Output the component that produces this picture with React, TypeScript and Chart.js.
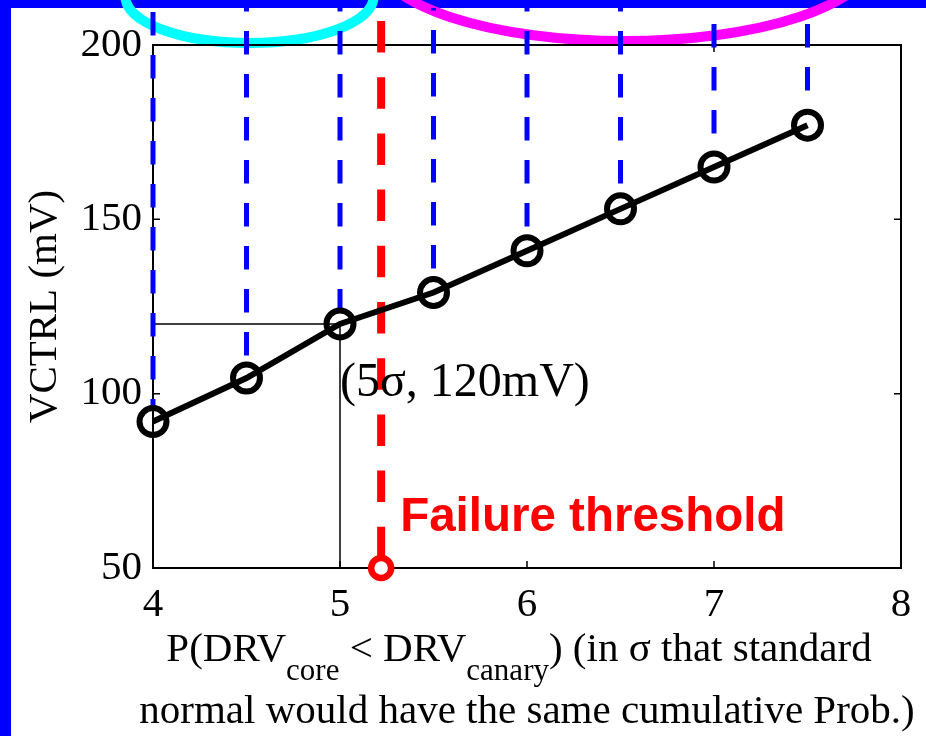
import React, { useEffect, useRef } from 'react';
import { Chart, registerables } from 'chart.js';

Chart.register(...registerables);

// Control voltage needed at each canary strength (in sigma)
const sigmaLevels = [4, 4.5, 5, 5.5, 6, 6.5, 7, 7.5];
const vctrlMv = [92, 104.5, 120, 129, 141, 153, 165, 177];

const xTickValues = [4, 5, 6, 7, 8];
const yTickValues = [50, 100, 150, 200];

// Failure threshold marker
const failureSigma = 5.22;
const failureMv = 50;

// Highlighted operating point
const markedIndex = 2;
const markedLabel = '(5σ, 120mV)';
const failureLabel = 'Failure threshold';

const yTitle = 'VCTRL (mV)';
const xTitleLine1: [string, boolean][] = [
  ['P(DRV', false],
  ['core', true],
  [' < DRV', false],
  ['canary', true],
  [') (in σ that standard', false],
];
const xTitleLine2 = 'normal would have the same cumulative Prob.)';

const SERIF = "'Liberation Serif', 'Times New Roman', serif";
const SANS = "'Liberation Sans', Arial, sans-serif";

// dash phase of each vertical guide where it leaves the top band
const guideDashPhase = [39, 20, 20, 21, 20, 20, 27, 27];

const decorPlugin = {
  id: 'decor',
  beforeDraw(chart: any) {
    const { ctx, width, height } = chart;
    const x = chart.scales.x;
    ctx.save();
    ctx.fillStyle = '#ffffff';
    ctx.fillRect(0, 0, width, height);
    ctx.fillStyle = '#0000ff';
    ctx.fillRect(0, 0, width, 8);
    ctx.fillRect(0, 0, 11, height);

    // group outlines
    ctx.lineWidth = 10;
    ctx.strokeStyle = '#00ffff';
    ctx.beginPath();
    ctx.ellipse(x.getPixelForValue(4.5) + 3, -3, 124, 46, 0, 0, Math.PI * 2);
    ctx.stroke();
    ctx.strokeStyle = '#ff00ff';
    ctx.beginPath();
    ctx.ellipse(x.getPixelForValue(6.5) + 4, -42, 248, 83, 0, 0, Math.PI * 2);
    ctx.stroke();
    ctx.restore();
  },
  beforeDatasetsDraw(chart: any) {
    const { ctx, chartArea } = chart;
    const x = chart.scales.x;
    const y = chart.scales.y;
    ctx.save();

    // box: top and right edges
    ctx.strokeStyle = '#000';
    ctx.lineWidth = 2;
    ctx.beginPath();
    ctx.moveTo(chartArea.left, chartArea.top);
    ctx.lineTo(chartArea.right, chartArea.top);
    ctx.lineTo(chartArea.right, chartArea.bottom);
    ctx.stroke();

    // inward tick marks on all four sides
    ctx.lineWidth = 1.5;
    const tl = 7;
    ctx.beginPath();
    xTickValues.slice(1, -1).forEach((v) => {
      const px = x.getPixelForValue(v);
      ctx.moveTo(px, chartArea.bottom);
      ctx.lineTo(px, chartArea.bottom - tl);
      ctx.moveTo(px, chartArea.top);
      ctx.lineTo(px, chartArea.top + tl);
    });
    yTickValues.slice(1, -1).forEach((v) => {
      const py = y.getPixelForValue(v);
      ctx.moveTo(chartArea.left, py);
      ctx.lineTo(chartArea.left + tl, py);
      ctx.moveTo(chartArea.right, py);
      ctx.lineTo(chartArea.right - tl, py);
    });
    ctx.stroke();

    // thin guide to the highlighted point
    const mx = x.getPixelForValue(sigmaLevels[markedIndex]);
    const my = y.getPixelForValue(vctrlMv[markedIndex]);
    ctx.beginPath();
    ctx.moveTo(chartArea.left, my);
    ctx.lineTo(mx, my);
    ctx.lineTo(mx, chartArea.bottom);
    ctx.stroke();

    // blue dashed verticals from the top band down to each point
    ctx.strokeStyle = '#0000ff';
    ctx.lineWidth = 5;
    ctx.lineCap = 'butt';
    sigmaLevels.forEach((s, i) => {
      const px = x.getPixelForValue(s);
      const py = y.getPixelForValue(vctrlMv[i]);
      ctx.setLineDash([23.5, 19.5]);
      ctx.lineDashOffset = guideDashPhase[i];
      ctx.beginPath();
      ctx.moveTo(px, 8);
      ctx.lineTo(px, py - 14);
      ctx.stroke();
    });

    // failure threshold
    const fx = x.getPixelForValue(failureSigma);
    const fy = y.getPixelForValue(failureMv);
    ctx.strokeStyle = '#ff0000';
    ctx.lineWidth = 8;
    ctx.setLineDash([31.5, 24.7]);
    ctx.lineDashOffset = 0;
    ctx.beginPath();
    ctx.moveTo(fx, 21);
    ctx.lineTo(fx, fy);
    ctx.stroke();
    ctx.setLineDash([]);
    ctx.fillStyle = '#ffffff';
    ctx.lineWidth = 6.5;
    ctx.beginPath();
    ctx.arc(fx, fy, 10, 0, Math.PI * 2);
    ctx.fill();
    ctx.stroke();
    ctx.restore();
  },
  afterDraw(chart: any) {
    const { ctx, chartArea } = chart;
    const x = chart.scales.x;
    ctx.save();
    ctx.textBaseline = 'alphabetic';
    ctx.textAlign = 'left';

    // annotations
    ctx.fillStyle = '#000';
    ctx.font = `48px ${SERIF}`;
    ctx.fillText(markedLabel, x.getPixelForValue(sigmaLevels[markedIndex]), 396);
    ctx.fillStyle = '#ff0000';
    ctx.font = `bold 47.5px ${SANS}`;
    ctx.fillText(failureLabel, x.getPixelForValue(failureSigma) + 19, 531);

    // x-axis title with subscripts
    ctx.fillStyle = '#000';
    const mainFont = `41px ${SERIF}`;
    const subFont = `31px ${SERIF}`;
    let total = 0;
    xTitleLine1.forEach(([t, sub]) => {
      ctx.font = sub ? subFont : mainFont;
      total += ctx.measureText(t).width;
    });
    const centre = (chartArea.left + chartArea.right) / 2;
    let cx = centre - 8 - total / 2;
    xTitleLine1.forEach(([t, sub]) => {
      ctx.font = sub ? subFont : mainFont;
      ctx.fillText(t, cx, sub ? 680 : 661);
      cx += ctx.measureText(t).width;
    });
    ctx.font = mainFont;
    ctx.textAlign = 'center';
    ctx.fillText(xTitleLine2, centre, 723);
    ctx.restore();
  },
};

export default function App() {
  const canvasRef = useRef<HTMLCanvasElement>(null);

  useEffect(() => {
    document.body.style.margin = '0';
    const canvas = canvasRef.current;
    if (!canvas) return;
    const tickFont = { family: SERIF, size: 41 };
    const chart = new Chart(canvas, {
      type: 'line',
      data: {
        datasets: [
          {
            data: sigmaLevels.map((s, i) => ({ x: s, y: vctrlMv[i] })),
            borderColor: '#000',
            borderWidth: 6,
            pointRadius: 13.5,
            pointBorderWidth: 6,
            pointBackgroundColor: 'rgba(0,0,0,0)',
            pointBorderColor: '#000',
            pointHoverRadius: 13.5,
            tension: 0,
            clip: false as any,
          },
        ],
      },
      options: {
        responsive: false,
        animation: false,
        devicePixelRatio: 1,
        events: [],
        layout: { padding: { top: 45, right: 25, left: 0, bottom: 0 } },
        plugins: {
          legend: { display: false },
          tooltip: { enabled: false },
        },
        scales: {
          x: {
            type: 'linear',
            min: 4,
            max: 8,
            afterBuildTicks: (s: any) => {
              s.ticks = xTickValues.map((v) => ({ value: v }));
            },
            afterFit: (s: any) => {
              s.height = 168;
            },
            grid: { display: false },
            border: { display: true, color: '#000', width: 2 },
            ticks: { font: tickFont, color: '#000', padding: 5, maxRotation: 0, autoSkip: false },
          },
          y: {
            type: 'linear',
            min: 50,
            max: 200,
            afterBuildTicks: (s: any) => {
              s.ticks = yTickValues.map((v) => ({ value: v }));
            },
            afterFit: (s: any) => {
              s.width = 153;
            },
            grid: { display: false },
            border: { display: true, color: '#000', width: 2 },
            ticks: { font: tickFont, color: '#000', padding: 3, autoSkip: false },
            title: {
              display: true,
              text: yTitle,
              color: '#000',
              font: { family: SERIF, size: 41 },
              padding: { top: 21, bottom: 0 },
            },
          },
        },
      },
      plugins: [decorPlugin],
    });
    return () => chart.destroy();
  }, []);

  return <canvas ref={canvasRef} width={926} height={736} style={{ display: 'block' }} />;
}
